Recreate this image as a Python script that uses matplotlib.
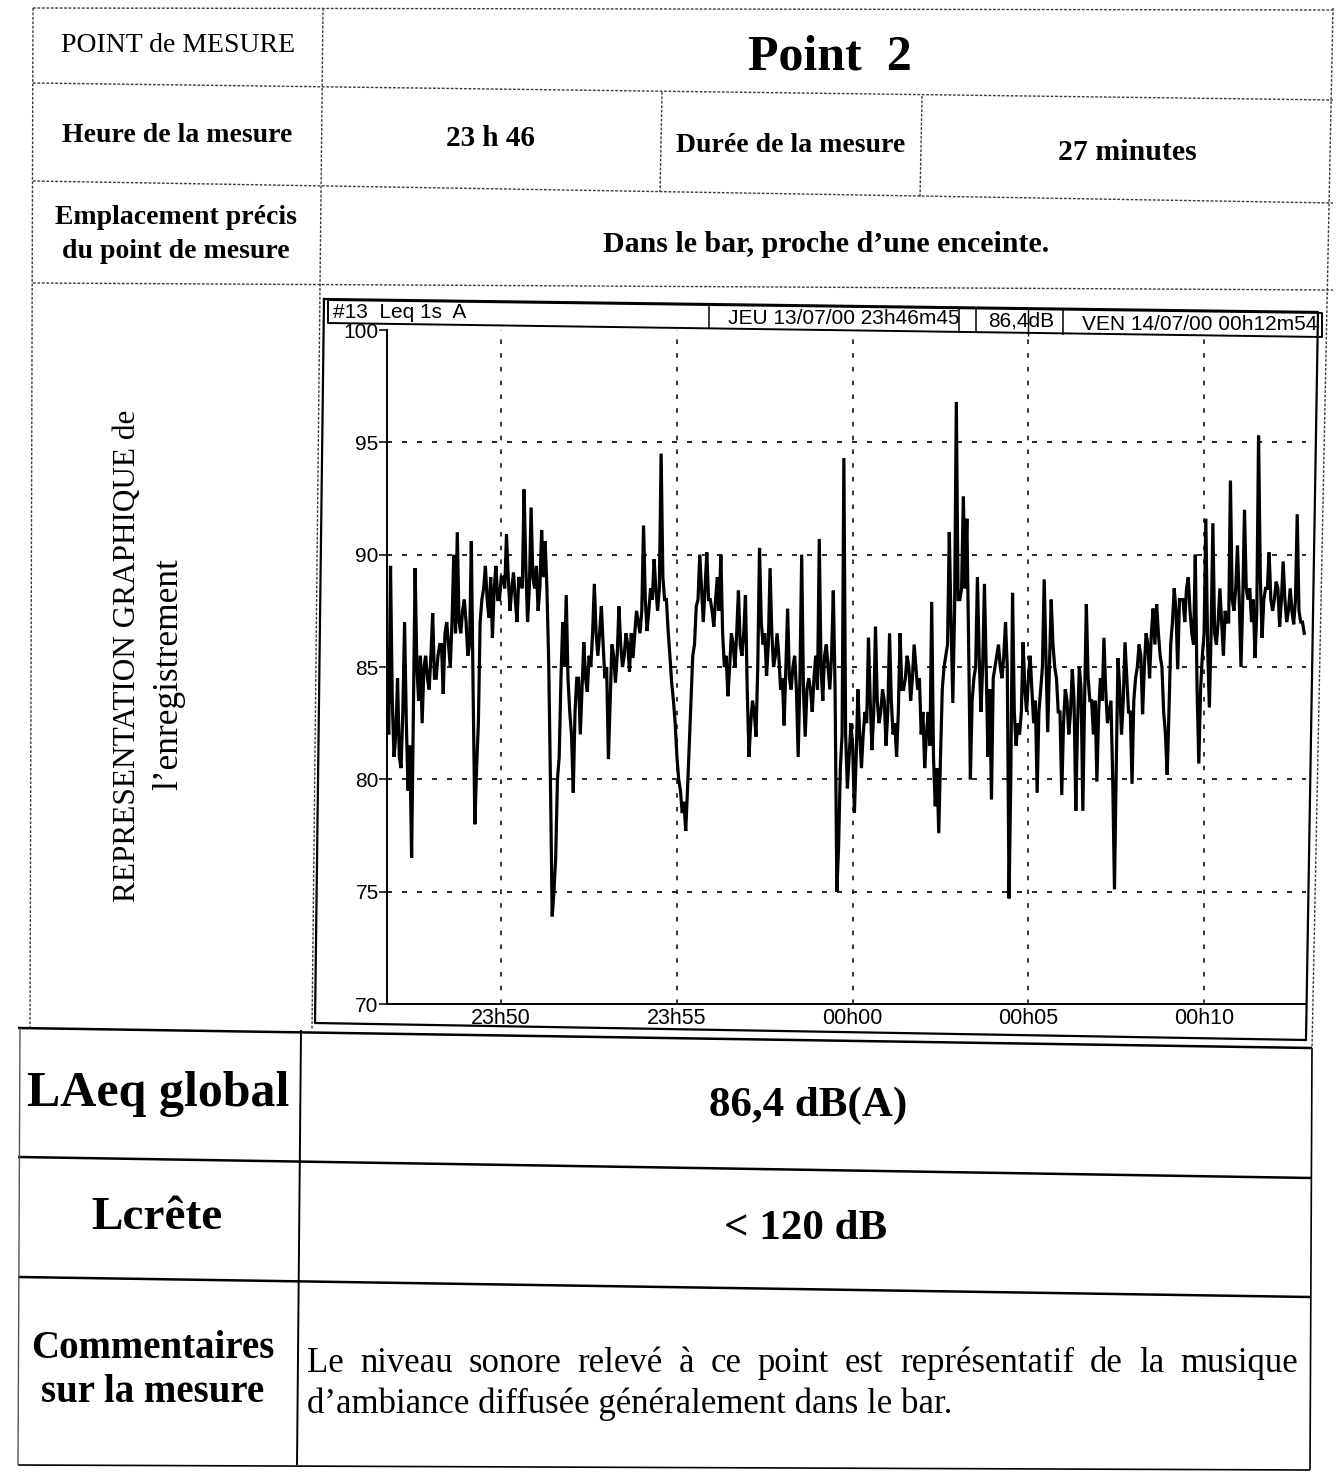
import matplotlib
matplotlib.use("Agg")
import matplotlib.pyplot as plt
import numpy as np

# ---------------- data ----------------
title_point = "Point  2"
heure = "23 h 46"
duree = "27 minutes"
emplacement = "Dans le bar, proche d\u2019une enceinte."
laeq_global = "86,4 dB(A)"
lcrete = "< 120 dB"
comment_line1 = "Le niveau sonore relev\u00e9 \u00e0 ce point est repr\u00e9sentatif de la musique"
comment_line2 = "d\u2019ambiance diffus\u00e9e g\u00e9n\u00e9ralement dans le bar."

hdr_left = "#13  Leq 1s  A"
hdr_start = "JEU 13/07/00 23h46m45"
hdr_level = "86,4dB"
hdr_end = "VEN 14/07/00 00h12m54"

duration_s = 1569          # 23h46m45 -> 00h12m54
step_s = 6                 # values read every 6 s (peaks / dips) ...
leq_db = [
    83.0, 89.5, 81.0, 84.5, 80.5, 87.0, 79.5, 76.5, 89.4, 83.5,
    82.5, 85.5, 84.0, 87.4, 84.5, 86.0, 83.8, 87.0, 85.0, 90.0,
    91.0, 86.5, 88.0, 85.5, 90.6, 78.0, 82.5, 88.0, 89.5, 87.2,
    86.3, 89.5, 88.0, 89.0, 90.9, 87.5, 89.2, 87.0, 88.8, 92.9,
    87.0, 92.1, 88.5, 87.5, 91.1, 90.6, 85.3, 73.9, 76.5, 81.0,
    87.0, 88.2, 83.0, 79.4, 84.5, 82.0, 86.1, 83.9, 85.0, 88.7,
    85.5, 87.7, 84.5, 80.9, 86.0, 84.3, 87.7, 85.0, 86.5, 84.8,
    85.4, 87.5, 86.5, 91.3, 86.6, 88.5, 89.8, 87.5, 94.5, 88.0,
    86.6, 84.3, 82.5, 80.0, 78.5, 77.7, 81.5, 85.5, 87.7, 90.0,
    87.0, 90.1, 88.0, 86.8, 89.0, 90.0, 85.0, 83.7, 86.5, 85.0,
    88.4, 85.5, 88.2, 81.0, 83.5, 81.9, 90.3, 86.0, 84.6, 89.4,
    85.0, 86.5, 84.0, 82.4, 87.6, 84.0, 85.5, 81.0, 90.0, 81.9,
    84.5, 83.0, 85.5, 90.7, 83.5, 86.0, 84.0, 88.4, 75.0, 80.5,
    94.3, 79.6, 82.5, 78.5, 84.0, 80.5, 83.0, 86.3, 81.3, 86.8,
    82.5, 84.0, 81.5, 86.5, 82.0, 81.0, 86.5, 84.0, 85.5, 83.5,
    86.0, 84.0, 82.0, 80.5, 83.0, 87.9, 78.8, 77.6, 84.0, 85.5,
    91.0, 83.4, 96.8, 88.0, 92.6, 91.6, 80.0, 84.5, 89.0, 83.0,
    88.7, 81.0, 79.1, 85.0, 86.0, 84.5, 87.0, 74.7, 88.3, 81.5,
    82.0, 86.1, 83.0, 85.5, 82.5, 79.4, 84.0, 88.9, 82.1, 88.0,
    85.0, 83.0, 79.3, 84.0, 82.0, 84.9, 78.6, 85.0, 78.6, 87.8,
    83.5, 82.0, 79.9, 84.5, 86.3, 82.5, 83.5, 75.1, 85.4, 82.0,
    86.1, 83.0, 79.8, 84.5, 86.0, 82.9, 86.5, 84.5, 87.6, 87.8,
    85.5, 83.0, 80.2, 86.0, 88.5, 84.9, 88.0, 87.0, 89.0, 86.5,
    90.0, 80.7, 85.5, 91.6, 83.2, 91.4, 86.0, 88.5, 85.5, 87.0,
    93.3, 87.5, 90.4, 85.0, 92.0, 88.0, 87.0, 85.4, 95.3, 86.3,
    88.5, 90.1, 87.5, 88.8, 86.8, 89.7, 87.0, 88.5, 86.9, 91.8, 87.0, 86.5,
]
# ... and the core level read in between (3 s later)
leq_db_between = [
    82.0, 83.5, 82.0, 81.0, 83.0, 82.5, 81.5, 83.0, 85.0, 85.5,
    85.0, 84.5, 85.5, 84.5, 85.5, 86.0, 86.5, 86.0, 87.0, 86.5,
    87.0, 87.5, 87.0, 86.0, 84.0, 80.5, 87.0, 88.5, 88.0, 89.0,
    88.5, 88.0, 89.0, 88.5, 89.0, 88.5, 88.0, 89.0, 88.5, 89.5,
    88.5, 89.0, 89.5, 88.5, 89.0, 88.5, 80.0, 75.0, 80.0, 84.5,
    85.0, 84.5, 82.0, 83.0, 84.5, 84.0, 84.5, 85.5, 86.5, 86.5,
    86.5, 86.0, 85.0, 83.5, 85.5, 85.5, 86.0, 85.5, 86.0, 86.5,
    86.5, 87.0, 87.5, 88.0, 87.5, 88.0, 88.5, 88.5, 89.0, 88.0,
    85.5, 83.5, 81.0, 79.5, 79.0, 79.5, 83.5, 86.0, 88.0, 88.5,
    88.5, 88.0, 87.5, 88.0, 87.5, 86.5, 85.5, 85.0, 86.0, 86.5,
    86.0, 86.5, 84.0, 82.5, 83.0, 85.0, 87.0, 86.5, 86.0, 86.5,
    85.5, 85.5, 84.5, 85.0, 84.5, 85.0, 84.0, 84.5, 84.0, 84.0,
    84.0, 84.5, 84.0, 85.0, 85.5, 85.0, 85.5, 84.0, 77.0, 82.0,
    82.0, 81.0, 81.5, 81.0, 82.0, 82.0, 82.5, 83.5, 83.0, 83.5,
    83.0, 83.5, 83.0, 83.5, 82.5, 83.0, 84.0, 84.5, 85.0, 84.5,
    85.0, 84.5, 83.0, 82.0, 81.5, 81.0, 80.5, 81.0, 85.0, 86.0,
    87.0, 87.5, 88.0, 88.5, 88.5, 86.0, 83.5, 85.0, 85.5, 85.0,
    85.0, 84.0, 84.5, 85.5, 85.0, 85.5, 85.0, 80.0, 83.0, 82.5,
    83.0, 84.0, 84.5, 84.0, 83.5, 83.0, 85.0, 85.5, 85.0, 86.0,
    84.5, 83.0, 82.5, 83.5, 83.0, 83.5, 82.5, 84.0, 83.5, 84.5,
    83.5, 83.5, 83.0, 83.5, 84.0, 83.0, 80.0, 80.5, 84.0, 83.5,
    84.5, 83.0, 83.5, 85.0, 85.5, 85.0, 86.0, 86.5, 86.0, 86.5,
    85.0, 82.0, 83.0, 87.0, 87.5, 88.0, 88.0, 88.5, 87.5, 86.0,
    84.0, 84.0, 86.5, 86.0, 86.5, 86.5, 87.0, 87.0, 87.5, 87.0,
    88.0, 88.5, 88.0, 88.0, 88.5, 88.5, 88.0, 87.5, 89.0, 88.0,
    88.5, 88.0, 88.0, 88.5, 88.0, 88.0, 87.5, 87.5, 88.0, 87.5, 87.0,
]
xtick_seconds = [195, 495, 795, 1095, 1395]
xtick_labels = ["23h50", "23h55", "00h00", "00h05", "00h10"]
ytick_values = [70, 75, 80, 85, 90, 95, 100]

# ---------------- figure ----------------
W, H = 1337, 1479
fig = plt.figure(figsize=(W / 100, H / 100), dpi=100)
fig.patch.set_facecolor("white")

bg = fig.add_axes([0, 0, 1, 1], zorder=0)
bg.set_xlim(0, W)
bg.set_ylim(H, 0)
bg.axis("off")

SERIF = ["Liberation Serif", "DejaVu Serif"]
SANS = ["Liberation Sans", "DejaVu Sans"]

def dline(x0, y0, x1, y1):
    bg.plot([x0, x1], [y0, y1], color="#3a3a3a", lw=1.0,
            linestyle=(0, (2.0, 1.2)), solid_capstyle="butt")

def sline(x0, y0, x1, y1, lw=1.8, color="black"):
    bg.plot([x0, x1], [y0, y1], color=color, lw=lw, solid_capstyle="butt")

# upper table (thin dotted lines)
dline(33, 8, 1333, 10)
dline(33, 8, 30, 1030)
dline(323, 8, 312, 1030)
dline(1333, 8, 1312, 1048)
dline(33, 83, 1333, 100)
dline(33, 181, 1333, 203)
dline(33, 283, 1333, 290)
dline(662, 92, 660, 192)
dline(922, 96, 920, 198)

# lower table (solid lines)
sline(18, 1028, 1312, 1048)
sline(18, 1157, 1312, 1178)
sline(18, 1277, 1310, 1297)
sline(18, 1465, 1310, 1470, lw=1.2)
sline(20, 1028, 18, 1465, lw=1.0, color="#555555")
sline(301, 1030, 297, 1465, lw=1.4)
sline(1312, 1048, 1310, 1470, lw=1.2)

# chart frame and header box
frame_x = [324, 1318, 1306, 315, 324]
frame_y = [299, 312, 1040, 1023, 299]
bg.plot(frame_x, frame_y, color="black", lw=1.6)
hb_x = [328, 1322, 1322, 328, 328]
hb_y = [300, 313, 337, 323, 300]
bg.plot(hb_x, hb_y, color="black", lw=1.4)
for xs, y0, y1 in [(709, 305, 329), (959, 308, 333), (976, 309, 333), (1063, 310, 335)]:
    sline(xs, y0, xs, y1, lw=1.1)
sline(1028, 309, 1028, 336, lw=1.0)

# header texts of chart
bg.text(333, 312, hdr_left, family=SANS, fontsize=15, ha="left", va="center")
bg.text(844, 318, hdr_start, family=SANS, fontsize=15, ha="center", va="center")
bg.text(1021, 321, hdr_level, family=SANS, fontsize=15, ha="center", va="center")
bg.text(1200, 324, hdr_end, family=SANS, fontsize=15, ha="center", va="center")

# table texts
bg.text(178, 46, "POINT de MESURE", family=SERIF, fontsize=20, ha="center", va="center")
bg.text(830, 57, title_point, family=SERIF, fontsize=36, fontweight="bold", ha="center", va="center")
bg.text(177, 135, "Heure de la mesure", family=SERIF, fontsize=20, fontweight="bold", ha="center", va="center")
bg.text(490, 139, heure, family=SERIF, fontsize=21, fontweight="bold", ha="center", va="center")
bg.text(791, 145, "Dur\u00e9e de la mesure", family=SERIF, fontsize=20, fontweight="bold", ha="center", va="center")
bg.text(1127, 152, duree, family=SERIF, fontsize=21.5, fontweight="bold", ha="center", va="center")
bg.text(176, 218, "Emplacement pr\u00e9cis", family=SERIF, fontsize=20, fontweight="bold", ha="center", va="center")
bg.text(176, 252, "du point de mesure", family=SERIF, fontsize=20, fontweight="bold", ha="center", va="center")
bg.text(826, 245, emplacement, family=SERIF, fontsize=21.5, fontweight="bold", ha="center", va="center")
bg.text(128, 656, "REPRESENTATION GRAPHIQUE de", family=SERIF, fontsize=22.5,
        rotation=90, ha="center", va="center")
bg.text(169, 674, "l\u2019enregistrement", family=SERIF, fontsize=25.5,
        rotation=90, ha="center", va="center")
bg.text(158, 1094, "LAeq global", family=SERIF, fontsize=36, fontweight="bold", ha="center", va="center")
bg.text(808, 1106, laeq_global, family=SERIF, fontsize=31, fontweight="bold", ha="center", va="center")
bg.text(157, 1218, "Lcr\u00eate", family=SERIF, fontsize=34, fontweight="bold", ha="center", va="center")
bg.text(806, 1229, lcrete, family=SERIF, fontsize=31, fontweight="bold", ha="center", va="center")
bg.text(153, 1348, "Commentaires", family=SERIF, fontsize=28, fontweight="bold", ha="center", va="center")
bg.text(153, 1393, "sur la mesure", family=SERIF, fontsize=28, fontweight="bold", ha="center", va="center")

# comment: first line justified between x=307 and x=1298
words = comment_line1.split()
wtexts = [bg.text(0, 1363, w, family=SERIF, fontsize=25, ha="left", va="center") for w in words]
fig.canvas.draw()
rend = fig.canvas.get_renderer()
widths = [t.get_window_extent(rend).width for t in wtexts]
gap = (1298 - 307 - sum(widths)) / (len(words) - 1)
xcur = 307
for t, wd in zip(wtexts, widths):
    t.set_x(xcur)
    xcur += wd + gap
bg.text(307, 1404, comment_line2, family=SERIF, fontsize=25, ha="left", va="center")

# ---------------- chart ----------------
x0, x1 = 387, 1306
ytop, ybot = 330, 1004
ax = fig.add_axes([x0 / W, 1 - ybot / H, (x1 - x0) / W, (ybot - ytop) / H], zorder=2)
ax.set_facecolor("none")
t_main = np.arange(len(leq_db)) * step_s
t_mid = np.arange(len(leq_db_between)) * step_s + step_s / 2
t_all = np.concatenate([t_main, t_mid])
v_all = np.concatenate([leq_db, leq_db_between])
order = np.argsort(t_all, kind="stable")
ax.plot(t_all[order], v_all[order], color="black", lw=2.3, solid_joinstyle="miter")
ax.set_xlim(0, duration_s)
ax.set_ylim(70, 100)
ax.set_yticks(ytick_values)
ax.set_yticklabels([str(v) for v in ytick_values], family=SANS, fontsize=15)
ax.set_xticks(xtick_seconds)
ax.set_xticklabels(xtick_labels, family=SANS, fontsize=15.5)
ax.tick_params(axis="y", direction="out", length=6, width=1.1, pad=0)
ax.tick_params(axis="x", length=0, pad=3)
for v in ytick_values[1:-1]:
    ax.axhline(v, color="black", lw=1.2, linestyle=(0, (3, 6)))
for s in xtick_seconds:
    ax.axvline(s, color="black", lw=1.1, linestyle=(0, (3, 6)))
for side in ["top", "right"]:
    ax.spines[side].set_visible(False)
for side in ["left", "bottom"]:
    ax.spines[side].set_linewidth(1.4)

fig.savefig("out.png", dpi=100, facecolor="white")
